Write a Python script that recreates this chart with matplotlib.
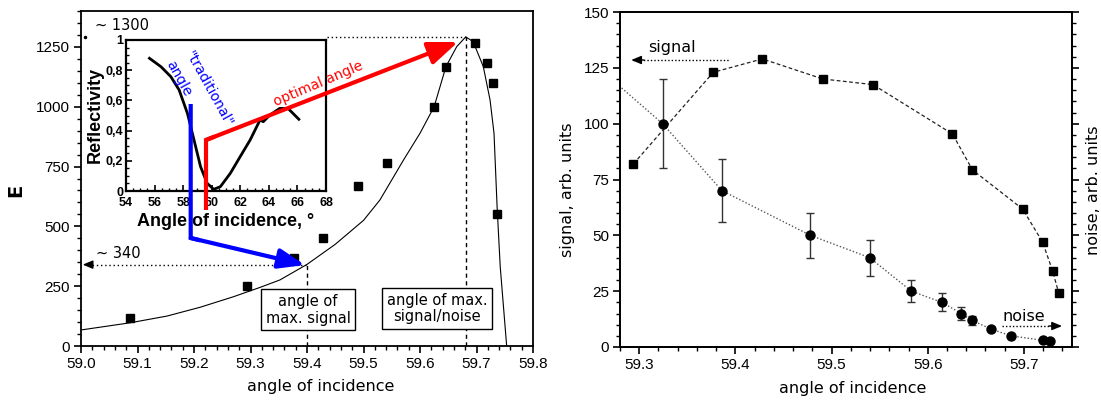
import matplotlib
matplotlib.use('Agg')
import matplotlib.pyplot as plt
from matplotlib.ticker import MultipleLocator, FuncFormatter

# ---------------- data ----------------
# left panel: E vs angle of incidence
e_angle = [59.087, 59.294, 59.377, 59.428, 59.491, 59.542, 59.625, 59.6455, 59.698, 59.7186, 59.729, 59.7357]
e_value = [115, 251, 367, 450, 669, 766, 1000, 1168, 1268, 1184, 1101, 550]

fit_angle = [59.0, 59.087, 59.152, 59.211, 59.270, 59.317, 59.352, 59.400, 59.45, 59.50, 59.529,
             59.571, 59.600, 59.625, 59.646, 59.665, 59.681, 59.694, 59.712, 59.724, 59.731,
             59.7365, 59.742, 59.7534]
fit_value = [67, 97, 125, 162, 206, 245, 276, 341, 425, 525, 610,
             778, 889, 1000, 1168, 1251, 1292, 1272, 1168, 1028, 889,
             580, 331, 0]

# inset: reflectivity curve
refl_angle = [55.64, 56.45, 57.14, 57.72, 58.30, 58.76, 59.22, 59.68, 60.14, 60.61, 61.30, 61.99,
              62.69, 63.15, 63.38, 63.61, 64.07, 64.76, 65.34, 65.69, 66.10]
refl_value = [0.879, 0.823, 0.757, 0.669, 0.514, 0.338, 0.161, 0.051, 0.011, 0.029, 0.117, 0.227,
              0.338, 0.426, 0.470, 0.459, 0.503, 0.547, 0.547, 0.514, 0.475]

# right panel: signal and noise
sig_angle = [59.294, 59.377, 59.428, 59.491, 59.543, 59.6257, 59.6465, 59.6986, 59.7194, 59.7299, 59.7361]
sig_value = [82, 123, 129, 120, 117.5, 95.4, 79.3, 61.8, 47.0, 34.0, 24.3]

noise_angle = [59.3243, 59.386, 59.478, 59.5396, 59.583, 59.6146, 59.635, 59.6455, 59.666, 59.6865, 59.720, 59.727]
noise_value = [100, 70, 50, 40, 25, 20, 15, 12, 8, 5, 3, 2.5]
noise_err = [20, 14, 10, 8, 5, 4, 3, 2, 0, 0, 0, 0]

noise_fit_angle = [59.279] + noise_angle
noise_fit_value = [117] + noise_value

# annotation values
peak_angle, peak_E = 59.681, 1290
sig_max_angle, sig_max_E = 59.40, 340

W, H = 1101, 400
TICKFONT = 'Liberation Sans'

fig = plt.figure(figsize=(W / 100, H / 100), dpi=100)


def style_axis(ax, xmaj, xmin, ymaj, ymin):
    ax.xaxis.set_major_locator(MultipleLocator(xmaj))
    ax.xaxis.set_minor_locator(MultipleLocator(xmin))
    ax.yaxis.set_major_locator(MultipleLocator(ymaj))
    ax.yaxis.set_minor_locator(MultipleLocator(ymin))
    ax.tick_params(which='major', direction='out', length=5, width=1.2,
                   labelsize=11, labelfontfamily=TICKFONT, pad=3)
    ax.tick_params(which='minor', direction='out', length=2.8, width=1.0)
    for s in ax.spines.values():
        s.set_linewidth(1.3)


# ---------------- left panel ----------------
ax1 = fig.add_axes([81 / W, 1 - 346 / H, 452 / W, 335 / H])
ax1.plot(fit_angle, fit_value, color='black', lw=0.8, zorder=2)
ax1.plot(e_angle, e_value, 's', color='black', ms=5.5, zorder=3)
ax1.set_xlim(59.0, 59.8)
ax1.set_ylim(0, 1400)
style_axis(ax1, 0.1, 0.02, 250, 50)
ax1.xaxis.set_major_formatter(FuncFormatter(lambda v, p: f'{v:.1f}'))
ax1.tick_params(top=False, right=False, which='both')

# dashed verticals
ax1.plot([sig_max_angle, sig_max_angle], [0, sig_max_E], color='black', lw=1, ls=(0, (3, 2.5)), zorder=2)
ax1.plot([peak_angle, peak_angle], [0, peak_E], color='black', lw=1, ls=(0, (3, 2.5)), zorder=2)
# dotted horizontal "~340" with arrow to left axis
ax1.plot([59.012, sig_max_angle], [sig_max_E, sig_max_E], color='black', lw=1, ls=(0, (1, 2)), zorder=1)
ax1.annotate('', xy=(59.003, sig_max_E), xytext=(59.02, sig_max_E),
             arrowprops=dict(arrowstyle='-|>,head_length=0.6,head_width=0.25',
                             color='black', lw=1, shrinkA=0, shrinkB=0), zorder=1)
# dotted horizontal "~1300" (starts at the right edge of the inset)
ax1.plot([59.436, peak_angle], [peak_E, peak_E], color='black', lw=1, ls=(0, (1, 2)), zorder=1)
ax1.plot([59.007], [peak_E], 'o', color='black', ms=1.5, zorder=1)

box = dict(boxstyle='square,pad=0.3', fc='white', ec='black', lw=1)
ax1.text(59.4018, 152, 'angle of\nmax. signal', ha='center', va='center', fontsize=10.5,
         bbox=box, linespacing=1.15, zorder=4)
ax1.text(59.630, 157, 'angle of max.\nsignal/noise', ha='center', va='center', fontsize=10.5,
         bbox=box, linespacing=1.15, zorder=4)

fig.text(122 / W, 1 - 26 / H, '~ 1300', ha='center', va='center', fontsize=10.5)
fig.text(118 / W, 1 - 253 / H, '~ 340', ha='center', va='center', fontsize=10.5)
fig.text(16 / W, 1 - 190 / H, 'E', rotation=90, ha='center', va='center', fontsize=14, fontweight='bold')
fig.text(321 / W, 1 - 387 / H, 'angle of incidence', ha='center', va='center', fontsize=11.5)

# ---------------- inset ----------------
axi = fig.add_axes([126 / W, 1 - 191 / H, 200 / W, 151 / H])
axi.set_zorder(5)
axi.plot(refl_angle, refl_value, color='black', lw=2)
axi.set_xlim(54, 68)
axi.set_ylim(0, 1)
axi.xaxis.set_major_locator(MultipleLocator(2))
axi.xaxis.set_minor_locator(MultipleLocator(0.5))
axi.yaxis.set_major_locator(MultipleLocator(0.2))
axi.yaxis.set_minor_locator(MultipleLocator(0.05))
axi.yaxis.set_major_formatter(FuncFormatter(lambda v, p: ('%g' % round(v, 1)).replace('.', ',')))
axi.tick_params(which='both', direction='in', top=False, right=False,
                labelsize=9, labelfontfamily=TICKFONT)
axi.tick_params(axis='x', pad=4)
axi.tick_params(axis='y', pad=2)
axi.tick_params(which='major', length=4, width=1.2)
axi.tick_params(which='minor', length=2.5, width=1.0)
for lbl in axi.get_xticklabels() + axi.get_yticklabels():
    lbl.set_fontweight('bold')
for s in axi.spines.values():
    s.set_linewidth(1.6)
fig.text(95 / W, 1 - 115 / H, 'Reflectivity', rotation=90, ha='center', va='center',
         fontsize=13, fontweight='bold', family=TICKFONT, zorder=6)
fig.text(226 / W, 1 - 221 / H, 'Angle of incidence, °', ha='center', va='center',
         fontsize=13, fontweight='bold', family=TICKFONT, zorder=6)

# ---------------- overlay (arrows over inset) ----------------
ov = fig.add_axes([0, 0, 1, 1])
ov.set_zorder(10)
ov.set_xlim(0, W)
ov.set_ylim(H, 0)
ov.axis('off')
ov.patch.set_alpha(0)

# blue arrow
ov.plot([190.7, 190.7, 200], [104, 238, 240.3], color='blue', lw=3, solid_joinstyle='miter',
        solid_capstyle='butt')
ov.annotate('', xy=(305, 265), xytext=(190.7, 238),
            arrowprops=dict(arrowstyle='-|>,head_length=1.6,head_width=0.6', color='blue', lw=3,
                            shrinkA=0, shrinkB=0))
# red arrow
ov.plot([206, 206, 215], [210, 140, 136.5], color='red', lw=3, solid_joinstyle='miter',
        solid_capstyle='butt')
ov.annotate('', xy=(458, 42), xytext=(206, 140),
            arrowprops=dict(arrowstyle='-|>,head_length=1.8,head_width=0.7', color='red', lw=3,
                            shrinkA=0, shrinkB=0))
ov.text(318, 84, 'optimal angle', color='red', rotation=23, ha='center', va='center',
        fontsize=10, rotation_mode='anchor')
ov.text(209, 89.5, '"traditional"', color='blue', rotation=-61, ha='center', va='center',
        fontsize=10, rotation_mode='anchor')
ov.text(178.4, 78.4, 'angle', color='blue', rotation=-61, ha='center', va='center',
        fontsize=10, rotation_mode='anchor')

# ---------------- right panel ----------------
ax2 = fig.add_axes([620 / W, 1 - 347 / H, 452 / W, 335 / H])
ax2.plot(noise_fit_angle, noise_fit_value, color='#555555', lw=1, ls=(0, (1, 1.5)), zorder=2)
ax2.plot(sig_angle, sig_value, color='#222222', lw=0.9, ls=(0, (3, 2)), marker='s', ms=5.5,
         mfc='black', mec='black', zorder=3)
ax2.errorbar(noise_angle, noise_value, yerr=noise_err, fmt='o', color='black', ms=6.5,
             ecolor='#333333', elinewidth=1, capsize=3, capthick=1, zorder=4)
ax2.set_xlim(59.28, 59.75)
ax2.set_ylim(0, 150)
style_axis(ax2, 0.1, 0.02, 25, 5)
ax2.xaxis.set_major_formatter(FuncFormatter(lambda v, p: f'{v:.1f}'))
ax2.tick_params(top=False, right=False, which='both')

ax2r = ax2.twinx()
ax2r.set_ylim(0, 150)
ax2r.yaxis.set_major_locator(MultipleLocator(25))
ax2r.yaxis.set_minor_locator(MultipleLocator(5))
ax2r.tick_params(which='major', direction='out', length=5, width=1.2, labelright=False)
ax2r.tick_params(which='minor', direction='out', length=2.8, width=1.0)
for s in ax2r.spines.values():
    s.set_linewidth(1.3)

# signal / noise arrows
ax2.plot([59.2935, 59.394], [128.5, 128.5], color='black', lw=1, ls=(0, (1, 1.5)))
ax2.annotate('', xy=(59.2917, 128.5), xytext=(59.305, 128.5),
             arrowprops=dict(arrowstyle='-|>,head_length=0.6,head_width=0.25', color='black',
                             lw=1, shrinkA=0, shrinkB=0))
ax2.text(59.334, 134, 'signal', ha='center', va='center', fontsize=11.5)
ax2.plot([59.677, 59.737], [9.4, 9.4], color='black', lw=1, ls=(0, (1, 1.5)))
ax2.annotate('', xy=(59.7396, 9.4), xytext=(59.726, 9.4),
             arrowprops=dict(arrowstyle='-|>,head_length=0.6,head_width=0.25', color='black',
                             lw=1, shrinkA=0, shrinkB=0))
ax2.text(59.700, 13.8, 'noise', ha='center', va='center', fontsize=11.5)

fig.text(567 / W, 1 - 190 / H, 'signal, arb. units', rotation=90, ha='center', va='center', fontsize=11.5)
fig.text(1093 / W, 1 - 190 / H, 'noise, arb. units', rotation=90, ha='center', va='center', fontsize=11.5)
fig.text(853 / W, 1 - 388 / H, 'angle of incidence', ha='center', va='center', fontsize=11.5)

fig.savefig('out.png', dpi=100)
